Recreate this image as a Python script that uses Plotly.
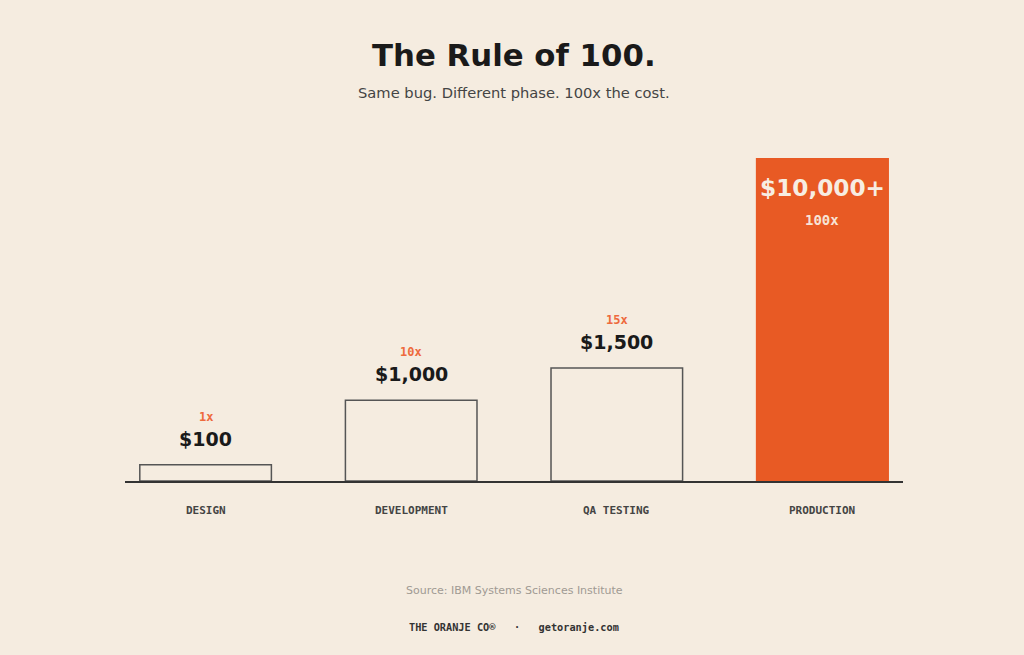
import plotly.graph_objects as go

phases = ["DESIGN", "DEVELOPMENT", "QA TESTING", "PRODUCTION"]
cost_labels = ["$100", "$1,000", "$1,500", "$10,000+"]
multipliers = ["1x", "10x", "15x", "100x"]
# bar heights as drawn (percent of the tallest bar)
bar_height = [5, 25, 35, 100]

bg = "#F5ECE0"
orange = "#E85A24"
ink = "#1A1A1A"
outline = "#555555"

# px -> paper y for a plot area spanning 158..481
def py(p):
    return (481 - p) / 323

fill = ["rgba(0,0,0,0)"] * 3 + [orange]
edge = [outline] * 3 + [orange]

fig = go.Figure()
fig.add_bar(
    x=phases,
    y=bar_height,
    marker=dict(color=fill, line=dict(color=edge, width=1.5)),
    width=0.64,
    hoverinfo="skip",
)

ann = []
for i, (ph, c, m, h) in enumerate(zip(phases, cost_labels, multipliers, bar_height)):
    if i < 3:
        ann.append(dict(x=ph, y=h, yref="y", yshift=26, text=f"<b>{c}</b>", showarrow=False,
                        yanchor="middle",
                        font=dict(family="DejaVu Sans", size=19, color=ink)))
        ann.append(dict(x=ph, y=h, yref="y", yshift=48, text=f"<b>{m}</b>", showarrow=False,
                        yanchor="middle",
                        font=dict(family="DejaVu Sans Mono", size=12, color="#EE6A3C")))
    else:
        ann.append(dict(x=ph, y=h, yref="y", yshift=-29, text=f"<b>{c}</b>", showarrow=False,
                        yanchor="middle",
                        font=dict(family="DejaVu Sans", size=23.2, color="#F7EDE2")))
        ann.append(dict(x=ph, y=h, yref="y", yshift=-62, text=f"<b>{m}</b>", showarrow=False,
                        yanchor="middle",
                        font=dict(family="DejaVu Sans Mono", size=14, color="#F7E3D6")))
    ann.append(dict(x=ph, y=py(510), yref="paper", yanchor="middle", text=f"<b>{ph}</b>",
                    showarrow=False,
                    font=dict(family="DejaVu Sans Mono", size=11, color="#444444")))

ann += [
    dict(x=0.5, y=py(55), xref="paper", yref="paper", text="<b>The Rule of 100.</b>",
         showarrow=False, font=dict(family="DejaVu Sans", size=30.8, color=ink)),
    dict(x=0.5, y=py(92), xref="paper", yref="paper",
         text="Same bug. Different phase. 100x the cost.",
         showarrow=False, font=dict(family="DejaVu Sans", size=14.7, color="#444444")),
    dict(x=0.5, y=py(590), xref="paper", yref="paper",
         text="Source: IBM Systems Sciences Institute",
         showarrow=False, font=dict(family="DejaVu Sans", size=11, color="#A09A93")),
    dict(x=0.5, y=py(627), xref="paper", yref="paper",
         text="<b>THE ORANJE CO®   ·   getoranje.com</b>",
         showarrow=False, font=dict(family="DejaVu Sans Mono", size=10.25, color="#333333")),
]
for a in ann[-4:]:
    a["yanchor"] = "middle"

fig.update_layout(
    width=1024,
    height=655,
    paper_bgcolor=bg,
    plot_bgcolor=bg,
    margin=dict(l=125, r=121, t=158, b=174),
    showlegend=False,
    annotations=ann,
    xaxis=dict(range=[-0.392, 3.392], showline=True, linecolor="#333333", linewidth=1.5,
               showticklabels=False, ticks="", showgrid=False, zeroline=False,
               fixedrange=True),
    yaxis=dict(range=[0, 100], visible=False, showgrid=False, fixedrange=True),
)
fig.update_traces(cliponaxis=False)

fig.write_html("out.html", config={"displayModeBar": False},
               post_script="document.body.style.margin='0';")
